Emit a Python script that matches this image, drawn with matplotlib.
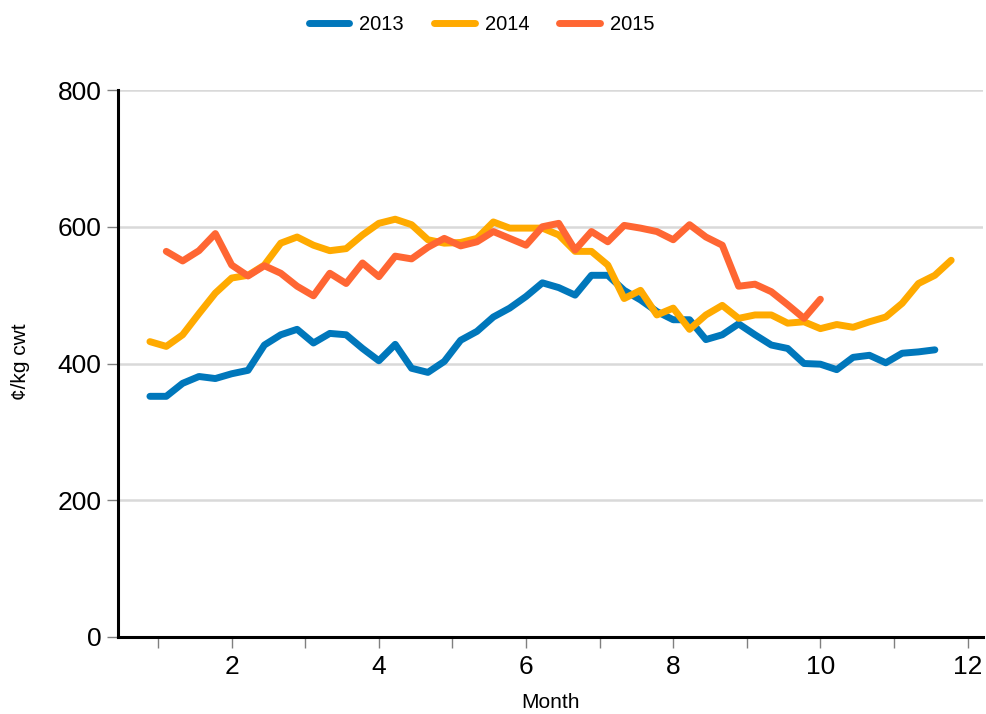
import numpy as np
import matplotlib
matplotlib.use("Agg")
import matplotlib.pyplot as plt

plt.rcParams['font.family'] = ['Liberation Sans', 'DejaVu Sans']

# weekly observations; x position in months = week index / 4.5
weeks_2013 = list(range(4, 53))
values_2013 = [352, 352, 371, 381, 378, 385, 390, 427, 442, 450, 430, 444, 442, 422, 404, 428,
               393, 387, 403, 434, 447, 468, 481, 498, 518, 511, 500, 529, 529, 507, 493, 476,
               464, 464, 435, 442, 458, 442, 427, 422, 400, 399, 391, 409, 412, 401, 415, 417, 420]

weeks_2014 = list(range(4, 54))
values_2014 = [432, 425, 442, 473, 503, 525, 529, 544, 576, 585, 573, 565, 568, 588, 605, 611,
               603, 581, 576, 577, 583, 607, 598, 598, 598, 588, 564, 564, 544, 495, 507, 471,
               481, 450, 471, 485, 466, 471, 471, 459, 461, 451, 457, 453, 461, 468, 488, 517,
               529, 551]

weeks_2015 = list(range(5, 46))
values_2015 = [564, 550, 565, 590, 544, 528, 543, 532, 513, 499, 532, 517, 547, 527, 557, 553,
               570, 583, 572, 578, 593, 583, 573, 600, 605, 566, 593, 578, 602, 598, 593, 581,
               603, 585, 573, 513, 516, 505, 486, 466, 494]

series_names = ["2013", "2014", "2015"]
colors = ["#0077BB", "#FFAA00", "#FF6633"]

x_ticks = list(range(1, 13))
x_ticklabels = [str(m) if m % 2 == 0 else "" for m in x_ticks]
y_ticks = [0, 200, 400, 600, 800]

fig = plt.figure(figsize=(9.87, 7.14), dpi=100)
ax = fig.add_axes([118/987, 1-637/714, (983-118)/987, (637-90)/714])

for wk, vals, name, c in zip([weeks_2013, weeks_2014, weeks_2015],
                             [values_2013, values_2014, values_2015],
                             series_names, colors):
    ax.plot(np.array(wk) / 4.5, vals, color=c, lw=5.0, label=name,
            solid_joinstyle='round', solid_capstyle='round', zorder=3)

ax.set_xlim(0.455, 12.21)
ax.set_ylim(0, 800)
ax.set_xticks(x_ticks)
ax.set_xticklabels(x_ticklabels)
ax.set_yticks(y_ticks)
ax.yaxis.grid(True, color="#d9d9d9", lw=1.8, zorder=0)
ax.set_axisbelow(True)

for s in ["top", "right"]:
    ax.spines[s].set_visible(False)
for s in ["left", "bottom"]:
    ax.spines[s].set_color("black")
    ax.spines[s].set_linewidth(2.2)
    ax.spines[s].set_zorder(4)

ax.tick_params(axis='both', direction='out', length=8, width=1, color="#808080",
               labelsize=19, labelcolor="black")
ax.tick_params(axis='y', pad=4)
ax.tick_params(axis='x', pad=5)

ax.set_xlabel("Month", fontsize=15)
ax.xaxis.set_label_coords(0.5, (637-702)/547)
ax.xaxis.label.set_va('center')
ax.set_ylabel("¢/kg cwt", fontsize=15)
ax.yaxis.set_label_coords((21-118)/865, (637-362)/547)
ax.yaxis.label.set_va('center')

fig.legend(loc='center', bbox_to_anchor=(0.488, 1-25/714), ncol=3, frameon=False,
           fontsize=14.5, handlelength=2.0, handletextpad=0.5, columnspacing=1.5)

fig.savefig("out.png", dpi=100)
